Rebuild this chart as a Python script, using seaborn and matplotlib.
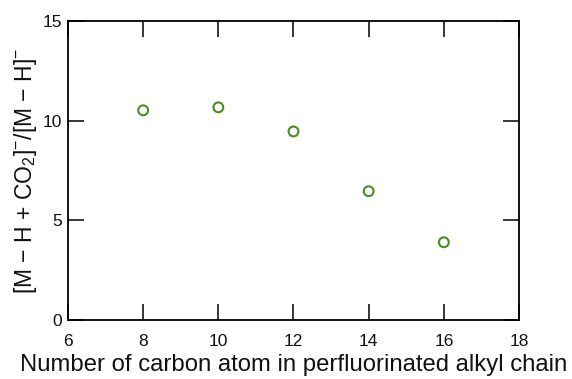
import matplotlib
matplotlib.use("Agg")
import matplotlib.pyplot as plt
import seaborn as sns
import pandas as pd

# Chain length vs. CO2 adduct ratio
carbon_atoms = [8, 10, 12, 14, 16]
adduct_ratio = [10.52, 10.67, 9.46, 6.46, 3.90]

x_ticks = [6, 8, 10, 12, 14, 16, 18]
y_ticks = [0, 5, 10, 15]

df = pd.DataFrame({"carbon": carbon_atoms, "ratio": adduct_ratio})

sns.set_theme(style="white")
plt.rcParams["font.family"] = ["Liberation Sans", "DejaVu Sans"]
plt.rcParams["mathtext.fontset"] = "custom"
plt.rcParams["mathtext.rm"] = "Liberation Sans"
plt.rcParams["mathtext.it"] = "Liberation Sans"

fig = plt.figure(figsize=(5.72, 3.79), dpi=100)
ax = fig.add_axes([68 / 572, 1 - 320 / 379, 451 / 572, 299 / 379])

sns.scatterplot(data=df, x="carbon", y="ratio", ax=ax, marker="o", s=50,
                facecolors="none", edgecolor="#4b8d1f", linewidth=1.5,
                legend=False)

ax.set_xlim(6, 18)
ax.set_ylim(0, 15)
ax.set_xticks(x_ticks)
ax.set_yticks(y_ticks)
ax.tick_params(direction="in", length=11.5, width=1.1, colors="black",
               labelsize=12.5, bottom=True, left=True, top=True, right=True,
               labelcolor="#111111")
ax.tick_params(axis="x", pad=10)
ax.tick_params(axis="y", pad=4)
for s in ax.spines.values():
    s.set_visible(True)
    s.set_color("black")
    s.set_linewidth(1.3)

ax.set_xlabel("Number of carbon atom in perfluorinated alkyl chain",
              fontsize=17.2, color="#111111", labelpad=4)
ax.set_ylabel("[M − H + CO$_2$]$^{-}$/[M − H]$^{-}$",
              fontsize=16.5, color="#111111", labelpad=3)

fig.savefig("out.png", dpi=100, facecolor="white")
